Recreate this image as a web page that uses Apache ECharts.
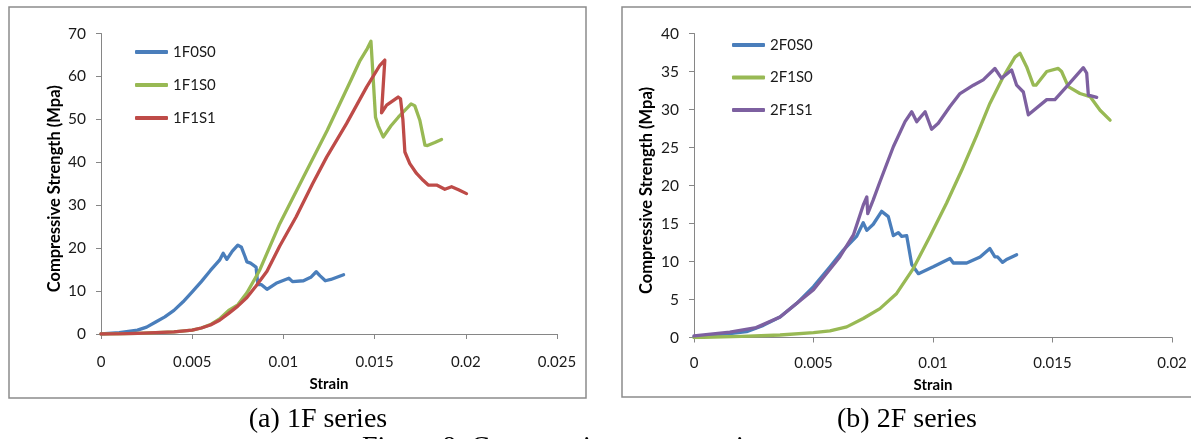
<!DOCTYPE html>
<html>
<head>
<meta charset="utf-8">
<script src="https://cdn.jsdelivr.net/npm/echarts@6/dist/echarts.min.js"></script>
<style>
  html, body { margin: 0; padding: 0; background: #fff; }
  #chart-panel { width: 1191px; height: 439px; }
</style>
</head>
<body>
<div id="chart-panel"></div>
<script>
// ---- (a) 1F series ----
var names1 = ['1F0S0', '1F1S0', '1F1S1'];
var strain_1F0S0 = [0, .001, .0015, .002, .0025, .003, .0035, .004, .0045, .005, .0055, .006, .0065, .0067, .0069, .0072, .0075, .0077, .0079, .008, .0082, .0083, .0085, .0086, .0088, .0091, .0096, .0103, .0105, .0111, .0115, .0118, .012, .0123, .0126, .0133];
var stress_1F0S0 = [0, .3, .6, .9, 1.6, 2.8, 4.0, 5.5, 7.5, 9.8, 12.2, 14.8, 17.2, 18.8, 17.4, 19.3, 20.7, 20.2, 18.0, 16.8, 16.5, 16.9, 15.6, 11.5, 11.5, 10.4, 11.8, 13.0, 12.2, 12.4, 13.2, 14.5, 13.6, 12.4, 12.7, 13.8];
var strain_1F1S0 = [0, .001, .002, .003, .004, .005, .0055, .006, .0065, .007, .0075, .008, .0086, .0087, .0098, .0111, .0124, .0137, .0142, .0146, .0148, .01488, .01505, .0152, .01547, .0159, .0163, .0170, .0172, .01748, .01776, .0179, .0183, .01867];
var stress_1F1S0 = [0, .05, .15, .3, .5, .9, 1.4, 2.2, 3.5, 5.5, 6.8, 9.6, 14.1, 14.9, 25.7, 36.6, 47.4, 59.1, 63.7, 66.5, 68.2, 67.8, 50.5, 48.5, 45.9, 48.5, 50.5, 53.6, 53.2, 49.8, 44.0, 43.9, 44.6, 45.3];
var strain_1F1S1 = [0, .001, .002, .003, .004, .005, .0055, .006, .0065, .007, .0075, .008, .0085, .0091, .0098, .0107, .0116, .01237, .01346, .01456, .01529, .01556, .01538, .01566, .01629, .01642, .01655, .01666, .01693, .0173, .01766, .01794, .0184, .01885, .01922, .0196, .02004];
var stress_1F1S1 = [0, .05, .15, .3, .5, .9, 1.4, 2.1, 3.2, 4.8, 6.5, 8.5, 11.2, 14.6, 20.5, 27.3, 35.0, 41.2, 49.0, 57.5, 62.6, 63.8, 51.5, 53.3, 55.2, 54.8, 50, 42.4, 39.7, 37.4, 35.8, 34.7, 34.7, 33.7, 34.3, 33.6, 32.7];

// ---- (b) 2F series ----
var names2 = ['2F0S0', '2F1S0', '2F1S1'];
var strain_2F0S0 = [0, .0007, .0015, .0022, .0029, .0036, .0043, .005, .00569, .00625, .0068, .00708, .00723, .0075, .00785, .00813, .00834, .00855, .00869, .0089, .00911, .00939, .01001, .01071, .01085, .01141, .01197, .01238, .01259, .0127, .01291, .0131, .0135];
var stress_2F0S0 = [.1, .3, .5, .76, 1.6, 2.7, 4.5, 6.7, 9.3, 11.5, 13.3, 15.1, 14.1, 14.9, 16.6, 15.9, 13.4, 13.8, 13.3, 13.4, 9.6, 8.4, 9.3, 10.4, 9.8, 9.8, 10.6, 11.7, 10.6, 10.6, 9.9, 10.3, 10.9];
var strain_2F1S0 = [0, .002, .0036, .005, .00569, .00639, .00708, .00778, .00848, .00918, .00987, .01057, .0112, .01183, .01238, .01294, .01343, .01364, .01392, .0142, .01431, .01476, .01524, .01538, .01566, .01615, .01657, .01699, .01741];
var stress_2F1S0 = [0, .15, .33, .64, .86, 1.4, 2.5, 3.8, 5.8, 9.1, 13.3, 17.7, 22.0, 26.6, 30.8, 34.3, 36.9, 37.4, 35.6, 33.2, 33.2, 35, 35.4, 35, 33, 32.1, 31.7, 29.9, 28.6];
var strain_2F1S1 = [0, .0015, .0026, .0036, .005, .0061, .00667, .00708, .00723, .00727, .0075, .00778, .00834, .00883, .00911, .00932, .00967, .00994, .01022, .01071, .01113, .01169, .0121, .01259, .01287, .01329, .0135, .01378, .01399, .01476, .0151, .01559, .01629, .01643, .0165, .01685];
var stress_2F1S1 = [.2, .7, 1.3, 2.7, 6.3, 10.6, 13.5, 17.4, 18.5, 16.3, 18.1, 20.5, 25.1, 28.4, 29.7, 28.4, 29.7, 27.4, 28.2, 30.4, 32.1, 33.2, 33.9, 35.4, 34.1, 35.2, 33.2, 32.3, 29.3, 31.3, 31.3, 33.0, 35.5, 34.8, 31.9, 31.6];

var colors = ['#4a7ebb', '#98b954', '#be4b48', '#7d60a0'];
var font = 'Lato';

function pairs(xs, ys) {
  var res = [];
  for (var i = 0; i < xs.length; i++) res.push([xs[i], ys[i]]);
  return res;
}

function xAx(idx, max, margin, gap) {
  return {
    type: 'value', gridIndex: idx, min: 0, max: max, interval: 0.005,
    name: 'Strain', nameLocation: 'middle', nameGap: gap,
    nameTextStyle: { fontFamily: font, fontWeight: 'bold', fontSize: 15, color: '#000' },
    axisLine: { lineStyle: { color: '#868686', width: 1 } },
    axisTick: { show: true, length: 5, lineStyle: { color: '#868686' } },
    axisLabel: { margin: margin, fontFamily: font, fontSize: 15, color: '#1a1a1a' },
    splitLine: { show: false }
  };
}
function yAx(idx, max, interval, gap, shift) {
  return {
    type: 'value', gridIndex: idx, min: 0, max: max, interval: interval,
    name: 'Compressive Strength (Mpa)', nameLocation: 'middle', nameGap: gap,
    // padding on the text end nudges the rotated title a little lower
    nameTextStyle: { fontFamily: font, fontWeight: 'bold', fontSize: 16.5, color: '#000', padding: [0, shift, 0, 0] },
    axisLine: { show: true, lineStyle: { color: '#868686', width: 1 } },
    axisTick: { show: true, length: 5, lineStyle: { color: '#868686' } },
    axisLabel: { margin: 15, fontFamily: font, fontSize: 15.5, color: '#1a1a1a' },
    splitLine: { show: false }
  };
}
function line(name, xi, data, color) {
  return {
    name: name, type: 'line', xAxisIndex: xi, yAxisIndex: xi,
    data: data, showSymbol: false, symbol: 'none',
    lineStyle: { color: color, width: 3.3, cap: 'round', join: 'round' },
    itemStyle: { color: color }
  };
}
function legend(names, left, top, gap) {
  return {
    data: names, orient: 'vertical', left: left, top: top,
    icon: 'roundRect', itemWidth: 33, itemHeight: 4, itemGap: gap,
    textStyle: { fontFamily: font, fontSize: 15, color: '#1a1a1a', lineHeight: 18 }
  };
}

var myChart = echarts.init(document.getElementById('chart-panel'));
var option = {
  animation: false,
  backgroundColor: '#fff',
  grid: [
    { left: 101, top: 33.5, width: 456, height: 300.5 },
    { left: 694, top: 33.5, width: 478, height: 304 }
  ],
  xAxis: [xAx(0, 0.025, 21, 43), xAx(1, 0.02, 18, 40)],
  yAxis: [yAx(0, 70, 10, 38, 10), yAx(1, 40, 5, 39, 10)],
  legend: [legend(names1, 130, 38, 15), legend(names2, 727, 31, 14.5)],
  series: [
    line('1F0S0', 0, pairs(strain_1F0S0, stress_1F0S0), colors[0]),
    line('1F1S0', 0, pairs(strain_1F1S0, stress_1F1S0), colors[1]),
    line('1F1S1', 0, pairs(strain_1F1S1, stress_1F1S1), colors[2]),
    line('2F0S0', 1, pairs(strain_2F0S0, stress_2F0S0), colors[0]),
    line('2F1S0', 1, pairs(strain_2F1S0, stress_2F1S0), colors[1]),
    line('2F1S1', 1, pairs(strain_2F1S1, stress_2F1S1), colors[3])
  ],
  graphic: [
    { type: 'rect', shape: { x: 9, y: 7, width: 577, height: 391 }, style: { fill: 'none', stroke: '#8c8c8c', lineWidth: 1.5 }, z: -1 },
    { type: 'rect', shape: { x: 622, y: 7, width: 600, height: 390 }, style: { fill: 'none', stroke: '#8c8c8c', lineWidth: 1.5 }, z: -1 },
    { type: 'text', x: 318, y: 420, style: { text: '(a) 1F series', font: '28px "Liberation Serif"', fill: '#000', align: 'center', verticalAlign: 'middle' } },
    { type: 'text', x: 907, y: 420, style: { text: '(b) 2F series', font: '28px "Liberation Serif"', fill: '#000', align: 'center', verticalAlign: 'middle' } },
    { type: 'text', x: 600, y: 434, style: { text: 'Figure 8: Compressive stress-strain curves', font: '28px "Liberation Serif"', fill: '#000', align: 'center', verticalAlign: 'top' } }
  ]
};
myChart.setOption(option);
</script>
</body>
</html>
